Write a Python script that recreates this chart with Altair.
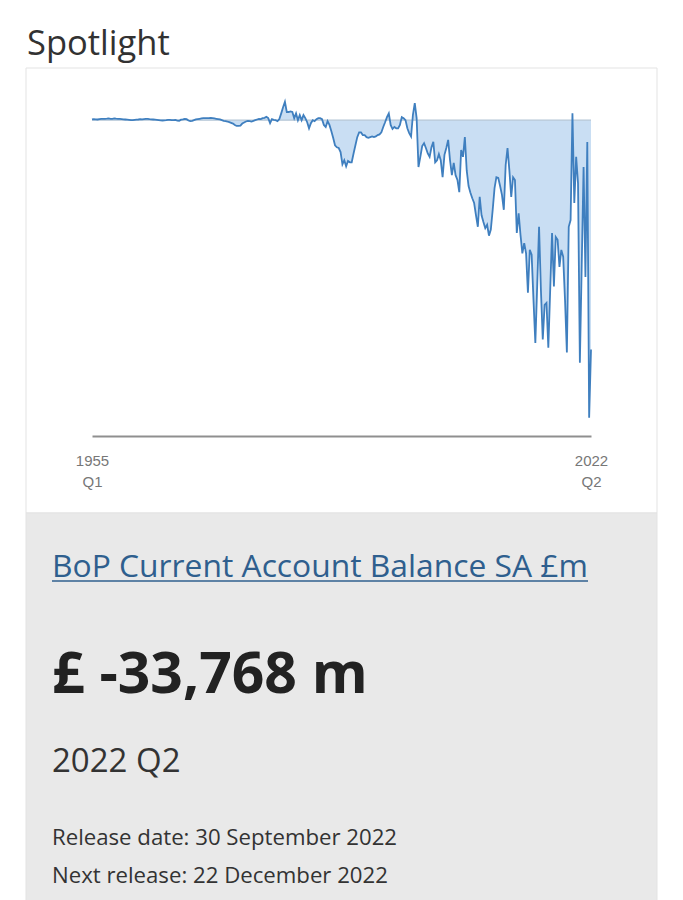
import altair as alt
import pandas as pd

# UK BoP current account balance, seasonally adjusted, £m, quarterly
cab_1955_1969 = [
    100, 150, 120, 100,
    150, 200, 180, 200,
    220, 250, 200, 180,
    250, 220, 200, 180,
    150, 120, 100, 80,
    50, 0, 20, 50,
    80, 100, 150, 120,
    150, 180, 200, 150,
    120, 100, 80, 50,
    20, -30, -50, -20,
    0, 30, 50, 20,
    10, 50, -60, -80,
    80, 120, 200, 150,
    -50, -150, -100, 0,
    100, 150, 200, 250,
]
cab_1970_1989 = [
    300, 300, 300, 300,
    350, 300, 250, 200,
    150, 100, 0, -100,
    -150, -200, -300, -400,
    -500, -700, -850, -850,
    -800, -500, -350, -200,
    -100, -150, -200, -100,
    0, 100, 200, 150,
    300, 350, 500, 300,
    -450, 150, 50, 0,
    -150, 150, 1000, 1900,
    2700, 1200, 1200, 1300,
    1200, 300, 1000, 0,
    750, 0, 750, 300,
    -300, -1200, -450, 0,
    -150, 150, 300, 300,
    150, -700, -1000, -150,
    -700, -1600, -2600, -3700,
    -4000, -4100, -4700, -6500,
    -5900, -6800, -6000, -6200,
]
cab_1990_2009 = [
    -6200, -4900, -3700, -2500,
    -1800, -1800, -2200, -2200,
    -2500, -2600, -2500, -2400,
    -2500, -2400, -2200, -2100,
    -1800, -1000, -300, 450,
    1000, -700, -1300, -1000,
    -1200, -1200, -700, 450,
    300, 0, -1200, -1900,
    -2400, 800, 2500, 300,
    -6900, -5400, -3800, -3400,
    -4100, -4900, -5400, -4000,
    -3200, -6200, -5900, -5000,
    -5900, -8400, -5100, -4100,
    -2900, -5900, -8100, -6300,
    -8100, -8800, -10600, -4400,
    -5400, -2500, -7400, -9700,
    -10700, -11500, -12200, -14000,
    -15700, -11300, -14000, -15000,
    -15900, -15400, -17000, -16100,
    -13200, -10000, -8400, -8500,
]
cab_2010_2022 = [
    -9700, -11000, -13200, -6600,
    -4100, -7400, -11300, -8400,
    -8800, -16600, -13700, -16900,
    -19600, -18100, -19600, -25400,
    -19100, -19800, -26500, -32800,
    -24300, -15700, -25000, -32300,
    -27200, -26900, -33500, -25000,
    -16600, -24500, -17200, -17600,
    -21600, -19100, -20100, -26500,
    -34200, -15700, -14700, 1000,
    -12200, -5400, -9300, -35700,
    -21300, -6900, -23100, -3200,
    -43800, -33768,
]

start_label = ["1955", "Q1"]
end_label = ["2022", "Q2"]

heading = "Spotlight"
series_name = "BoP Current Account Balance SA £m"
latest_value = "£ -33,768 m"
latest_period = "2022 Q2"
release_line = "Release date: 30 September 2022"
next_line = "Next release: 22 December 2022"

values_m = cab_1955_1969 + cab_1970_1989 + cab_1990_2009 + cab_2010_2022
n = len(values_m)
df = pd.DataFrame({"idx": list(range(n)), "value": values_m})
last = n - 1

label_expr = (
    "datum.value == 0 ? ['%s','%s'] : ['%s','%s']"
    % (start_label[0], start_label[1], end_label[0], end_label[1])
)

x_enc = alt.X(
    "idx:Q",
    scale=alt.Scale(domain=[0, last], nice=False, zero=False),
    axis=alt.Axis(
        values=[0, last], labelExpr=label_expr, ticks=False, tickSize=0,
        grid=False, domainColor="#8f8f8f", domainWidth=2,
        labelFont="Liberation Sans", labelFontSize=15, labelColor="#777777",
        labelPadding=17, labelLineHeight=21, labelFlush=False, title=None,
        zindex=1,
    ),
)
y_enc = alt.Y("value:Q", scale=alt.Scale(domain=[-46500, 4000], nice=False, zero=False), axis=None)

one = pd.DataFrame({"k": [0]})

card_white = alt.Chart(one).mark_rect(fill="white", stroke="#e3e3e3", strokeWidth=1).encode(
    x=alt.value(-66), x2=alt.value(565), y=alt.value(-25), y2=alt.value(420)
)
card_grey = alt.Chart(one).mark_rect(fill="#e9e9e9", stroke="#e3e3e3", strokeWidth=1).encode(
    x=alt.value(-66), x2=alt.value(565), y=alt.value(420), y2=alt.value(815)
)

area = alt.Chart(df).mark_area(color="#c9def3", opacity=1).encode(
    x=x_enc, y=y_enc, y2=alt.datum(0)
)
zero_rule = alt.Chart(one).mark_rule(color="#b4c6d6", strokeWidth=1.2).encode(
    x=alt.datum(0), x2=alt.datum(last), y=alt.datum(0)
)
line = alt.Chart(df).mark_line(color="#3f7fbf", strokeWidth=1.8).encode(x="idx:Q", y="value:Q")


def text_layer(txt, x, y, size, weight="normal", color="#333333", font="Open Sans"):
    return alt.Chart(pd.DataFrame({"t": [txt]})).mark_text(
        align="left", baseline="alphabetic", font=font, fontSize=size,
        fontWeight=weight, color=color,
    ).encode(x=alt.value(x), y=alt.value(y), text="t:N")


t_head = text_layer(heading, -65, -38, 34.5, color="#323232")
t_name = text_layer(series_name, -40, 484, 31.8, color="#2f5f8e")
underline = alt.Chart(one).mark_rule(color="#2f5f8e", strokeWidth=1.5).encode(
    x=alt.value(-40), x2=alt.value(496), y=alt.value(488)
)
t_value = text_layer(latest_value, -40, 600, 57, weight="bold", color="#222222")
t_period = text_layer(latest_period, -40, 679, 33, color="#333333")
t_rel = text_layer(release_line, -40, 752, 22.2, color="#333333")
t_next = text_layer(next_line, -40, 790, 22.2, color="#333333")

chart = alt.layer(
    card_white, card_grey, area, zero_rule, line,
    t_head, t_name, underline, t_value, t_period, t_rel, t_next,
).properties(
    width=499, height=343,
    padding={"left": 92, "top": 93, "right": 92, "bottom": 464},
    autosize=alt.AutoSizeParams(type="none"),
    background="white",
).configure_view(strokeWidth=0)

chart.save("out.html", embed_options={"renderer": "svg", "actions": False})
